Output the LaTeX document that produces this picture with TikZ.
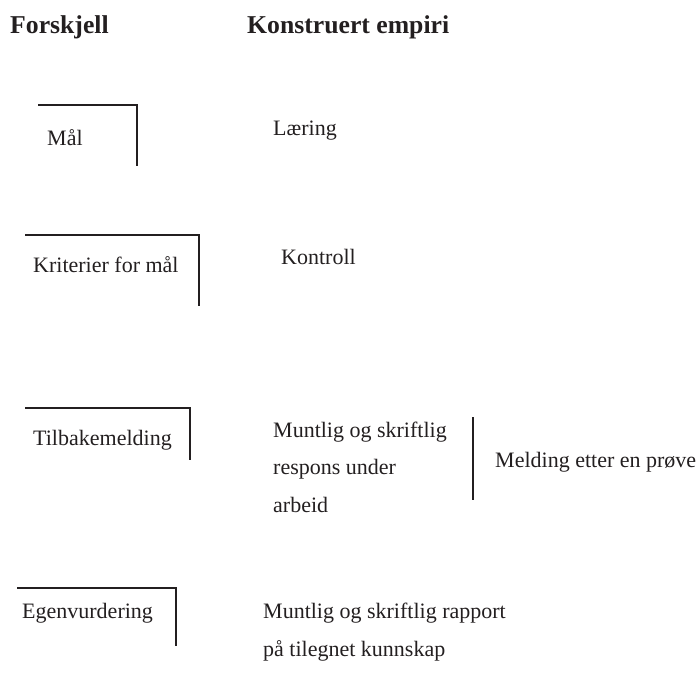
\documentclass[tikz,border=0pt]{standalone}
\usepackage{fontspec}
\setmainfont{Liberation Serif}
\definecolor{ink}{HTML}{231F20}
\begin{document}
\begin{tikzpicture}[x=1pt,y=1pt,
  txt/.style={anchor=base west,inner sep=0pt,text=ink,font=\fontsize{22}{26}\selectfont},
  ttl/.style={anchor=base west,inner sep=0pt,text=ink,font=\fontsize{25.7}{30}\selectfont\bfseries},
  brk/.style={draw=ink,line width=1.4pt}]
\useasboundingbox (0,0) rectangle (700,-686);
% titles
\node[ttl] (t1) at (10,-33) {Forskjell};
\node[ttl] (t2) at (247,-33) {Konstruert empiri};
% left column
\node[txt] (mal) at (47,-145) {Mål};
\draw[brk] (38,-105) coordinate (malA) -- (137,-105) coordinate (malB) -- (137,-166) coordinate (malC);
\node[txt] (krit) at (33,-272) {Kriterier for mål};
\draw[brk] (25,-235) coordinate (kritA) -- (199,-235) coordinate (kritB) -- (199,-306) coordinate (kritC);
\node[txt] (tilb) at (33,-445) {Tilbakemelding};
\draw[brk] (25,-408) coordinate (tilbA) -- (190,-408) coordinate (tilbB) -- (190,-460) coordinate (tilbC);
\node[txt] (egen) at (22,-618) {Egenvurdering};
\draw[brk] (17,-588) coordinate (egenA) -- (176,-588) coordinate (egenB) -- (176,-646) coordinate (egenC);
% right column
\node[txt] (laer) at (273,-135) {Læring};
\node[txt] (kontr) at (281,-264) {Kontroll};
\node[txt] (m1) at (273,-437) {Muntlig og skriftlig};
\node[txt] (m2) at (273,-474.5) {respons under};
\node[txt] (m3) at (273,-512) {arbeid};
\draw[brk] (473,-417) coordinate (dA) -- (473,-500) coordinate (dB);
\node[txt] (meld) at (495,-467) {Melding etter en prøve};
\node[txt] (r1) at (263,-618) {Muntlig og skriftlig rapport};
\node[txt] (r2) at (263,-656) {på tilegnet kunnskap};
\end{tikzpicture}
\end{document}
